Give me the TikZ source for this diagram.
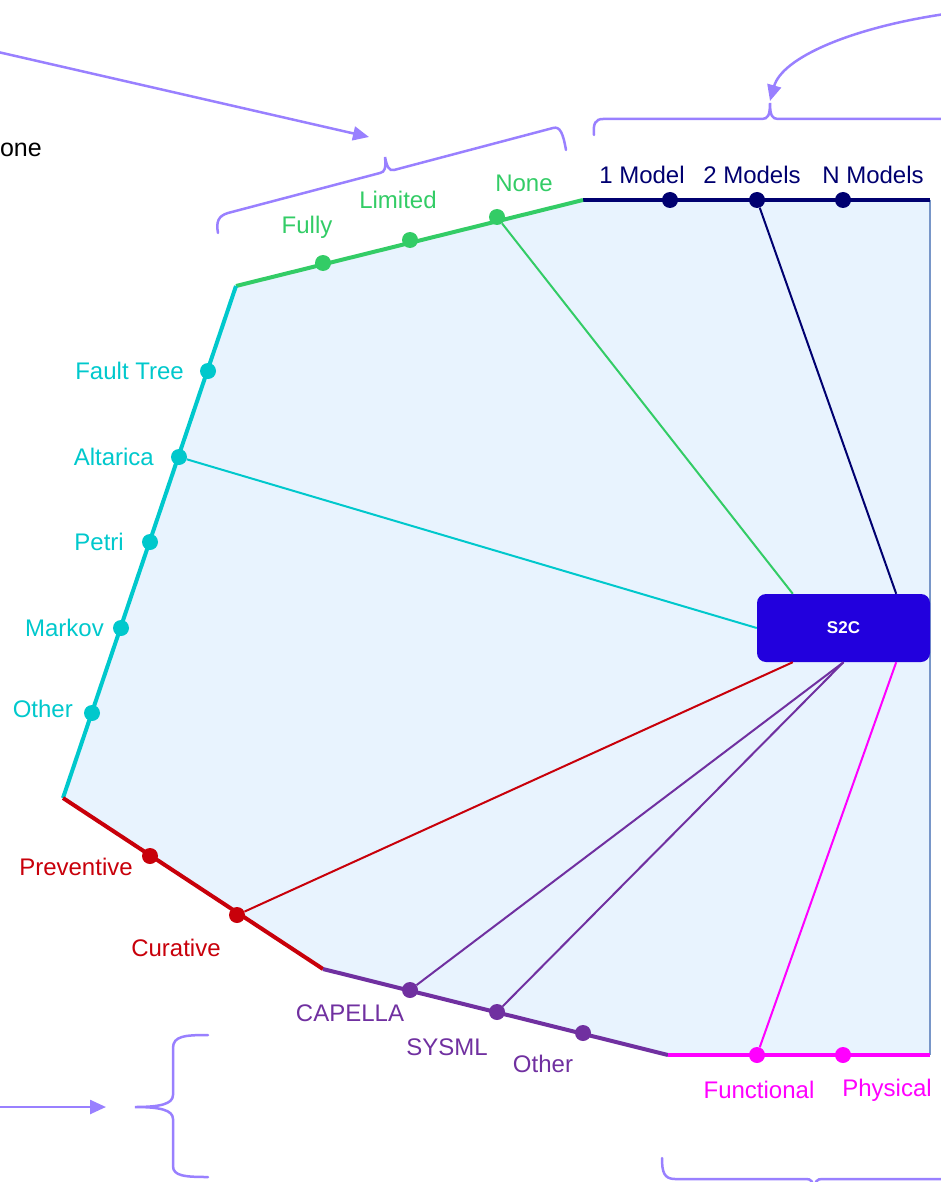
\documentclass[tikz,border=0pt]{standalone}
\usepackage{fontspec}
\setmainfont{Liberation Sans}
\usetikzlibrary{arrows.meta}

\definecolor{navycol}{RGB}{0,0,112}
\definecolor{greencol}{RGB}{51,204,102}
\definecolor{cyancol}{RGB}{0,200,204}
\definecolor{redcol}{RGB}{200,0,10}
\definecolor{purplecol}{RGB}{112,48,160}
\definecolor{magentacol}{RGB}{255,0,255}
\definecolor{bracecol}{RGB}{153,128,255}
\definecolor{areacol}{RGB}{232,243,254}
\definecolor{boxcol}{RGB}{34,0,221}
\definecolor{edgecol}{RGB}{120,150,200}

\tikzset{
  dot/.style={circle, fill=#1, inner sep=0pt, minimum size=16pt},
  rim/.style={line width=4pt, #1},
  spoke/.style={line width=2pt, #1},
  lbl/.style={text=#1, inner sep=0pt, font=\fontsize{24}{28}\selectfont},
  brace/.style={line width=2.5pt, bracecol, line cap=round},
  pointer/.style={line width=2.5pt, bracecol, -{Triangle[length=16pt,width=14pt]}},
}

\begin{document}
\begin{tikzpicture}[x=1pt, y=-1pt]
\useasboundingbox (0,0) rectangle (941,1182);

% corners of the outline
\coordinate (tr) at (930,200);
\coordinate (gn) at (583,200);
\coordinate (gc) at (236,286);
\coordinate (cr) at (63,798);
\coordinate (rp) at (323,969);
\coordinate (pm) at (668,1055);
\coordinate (br) at (930,1055);

% shaded area
\fill[areacol] (tr) -- (gn) -- (gc) -- (cr) -- (rp) -- (pm) -- (br) -- cycle;
\draw[line width=1.2pt, edgecol] (tr) -- (br);

% coloured rim
\draw[rim=navycol] (gn) -- (tr);
\draw[rim=greencol] (gc) -- (gn);
\draw[rim=cyancol] (cr) -- (gc);
\draw[rim=redcol] (cr) -- (rp);
\draw[rim=purplecol] (rp) -- (pm);
\draw[rim=magentacol] (pm) -- (br);

% option markers
\node[dot=navycol] (m1) at (670,200) {};
\node[dot=navycol] (m2) at (757,200) {};
\node[dot=navycol] (mn) at (843,200) {};
\node[dot=greencol] (fully) at (323,263) {};
\node[dot=greencol] (limited) at (410,240) {};
\node[dot=greencol] (none) at (497,217) {};
\node[dot=cyancol] (ft) at (208,371) {};
\node[dot=cyancol] (alt) at (179,457) {};
\node[dot=cyancol] (petri) at (150,542) {};
\node[dot=cyancol] (markov) at (121,628) {};
\node[dot=cyancol] (cother) at (92,713) {};
\node[dot=redcol] (prev) at (150,856) {};
\node[dot=redcol] (cur) at (237,915) {};
\node[dot=purplecol] (cap) at (410,990) {};
\node[dot=purplecol] (sys) at (497,1012) {};
\node[dot=purplecol] (pother) at (583,1033) {};
\node[dot=magentacol] (func) at (757,1055) {};
\node[dot=magentacol] (phys) at (843,1055) {};

% central tool
\node[draw=none, fill=boxcol, rounded corners=9pt, minimum width=173pt, minimum height=68pt,
      text=white, font=\bfseries\fontsize{17}{20}\selectfont] (s2c) at (843.5,628) {S2C};

% links from the selected options to the tool
\draw[spoke=greencol] (none) -- ([xshift=36pt]s2c.north west);
\draw[spoke=navycol] (m2) -- ([xshift=-34pt]s2c.north east);
\draw[spoke=cyancol] (alt) -- (s2c.west);
\draw[spoke=redcol] (cur) -- ([xshift=36pt]s2c.south west);
\draw[spoke=purplecol] (cap) -- (s2c.south);
\draw[spoke=purplecol] (sys) -- (s2c.south);
\draw[spoke=magentacol] (func) -- ([xshift=-34pt]s2c.south east);

% option labels
\node[lbl=navycol] (l1) at (642,175) {1 Model};
\node[lbl=navycol] (l2) at (752,175) {2 Models};
\node[lbl=navycol] (ln) at (873,175) {N Models};
\node[lbl=greencol] (lnone) at (524,183) {None};
\node[lbl=greencol] (llim) at (398,200) {Limited};
\node[lbl=greencol] (lfully) at (307,227) {Fully};
\node[lbl=cyancol, anchor=east] (lft) at (184,371) {Fault Tree};
\node[lbl=cyancol, anchor=east] (lalt) at (154,457) {Altarica};
\node[lbl=cyancol, anchor=east] (lpetri) at (124,542) {Petri};
\node[lbl=cyancol, anchor=east] (lmarkov) at (104,628) {Markov};
\node[lbl=cyancol, anchor=east] (lcother) at (73,709) {Other};
\node[lbl=redcol] (lprev) at (76,867) {Preventive};
\node[lbl=redcol] (lcur) at (176,948) {Curative};
\node[lbl=purplecol] (lcap) at (350,1013) {CAPELLA};
\node[lbl=purplecol] (lsys) at (447,1047) {SYSML};
\node[lbl=purplecol] (lpother) at (543,1064) {Other};
\node[lbl=magentacol] (lfunc) at (759,1090) {Functional};
\node[lbl=magentacol] (lphys) at (887,1090) {Physical};

% side note at the left edge
\node[lbl=black, anchor=east, font=\fontsize{25}{29}\selectfont] (side) at (42,150) {one};

% braces grouping the options
\draw[brace] (218,233) .. controls (216,222) and (218,216) .. (228,213)
  -- (380,173) .. controls (385,172) and (386,168) .. (385,157)
  .. controls (387,167) and (389,171) .. (394,170)
  -- (553,128) .. controls (560,126) and (563,133) .. (566,150);
\draw[brace] (594,135) .. controls (593,124) and (595,119) .. (603,119)
  -- (762,119) .. controls (768,119) and (770,115) .. (770,103)
  .. controls (770,115) and (772,119) .. (778,119) -- (950,119);
\draw[brace] (208,1035) .. controls (185,1035) and (173,1036) .. (173,1048)
  -- (173,1095) .. controls (173,1104) and (160,1107) .. (135,1107)
  .. controls (160,1107) and (173,1110) .. (173,1119)
  -- (173,1166) .. controls (173,1176) and (185,1177) .. (208,1177);
\draw[brace] (662,1158) .. controls (662,1172) and (664,1179) .. (675,1179)
  -- (806,1179) .. controls (811,1179) and (813,1181) .. (814,1190)
  .. controls (815,1181) and (817,1179) .. (822,1179) -- (950,1179);

% pointers onto the braces
\coordinate (a1s) at (-2,52);
\coordinate (a1e) at (369,137);
\coordinate (a2s) at (945,14);
\coordinate (a2e) at (770,101);
\coordinate (a3s) at (-2,1107);
\coordinate (a3e) at (106,1107);
\draw[pointer] (a1s) -- (a1e);
\draw[pointer] (a2s) .. controls (850,28) and (782,58) .. (a2e);
\draw[pointer] (a3s) -- (a3e);
\end{tikzpicture}
\end{document}
